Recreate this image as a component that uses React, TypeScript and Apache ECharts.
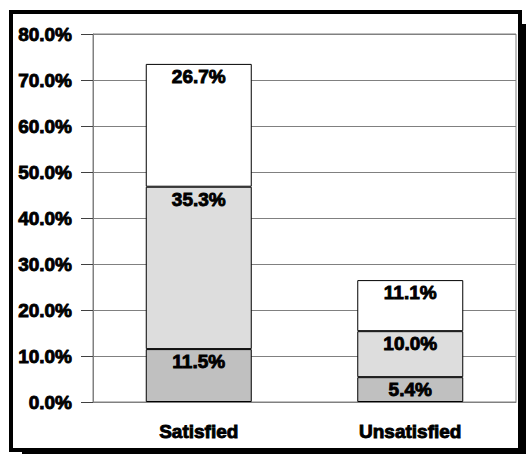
import React, { useEffect, useRef } from "react";
import * as echarts from "echarts";

const categories = ["Satisfied", "Unsatisfied"];
const bottomValues = [11.5, 5.4];
const middleValues = [35.3, 10.0];
const topValues = [26.7, 11.1];
const yTicks = { min: 0, max: 80, interval: 10 };

const FONT = '"Liberation Sans", Arial, sans-serif';
const heavy = { textBorderColor: "#000", textBorderWidth: 0.9 };

export default function App() {
  const ref = useRef<HTMLDivElement>(null);
  useEffect(() => {
    document.body.style.margin = "0";
    const chart = echarts.init(ref.current!, undefined, { renderer: "svg" });
    const label = {
      show: true,
      position: "insideTop",
      distance: 3,
      color: "#000",
      fontFamily: FONT,
      fontWeight: "bold",
      fontSize: 19,
      ...heavy,
      formatter: (p: any) => Number(p.value).toFixed(1) + "%",
    };
    const mk = (name: string, data: number[], color: string) => ({
      name,
      type: "bar",
      stack: "s",
      data,
      barWidth: 106,
      itemStyle: { color, borderColor: "#000", borderWidth: 1 },
      label,
    });
    chart.setOption({
      animation: false,
      graphic: [
        {
          type: "rect",
          shape: { x: 22, y: 24, width: 510, height: 440 },
          style: { fill: "#000" },
          z: -10,
        },
        {
          type: "rect",
          shape: { x: 11, y: 12, width: 509, height: 438 },
          style: { fill: "#fff", stroke: "#000", lineWidth: 4 },
          z: -9,
        },
      ],
      grid: {
        left: 93,
        top: 34,
        right: 10,
        bottom: 52,
        show: true,
        borderColor: "#808080",
        borderWidth: 1,
        z: 0,
      },
      xAxis: {
        type: "category",
        data: categories,
        axisLine: { lineStyle: { color: "#808080", width: 1 } },
        axisTick: { alignWithLabel: true, length: 6, lineStyle: { color: "#000" } },
        axisLabel: {
          margin: 20,
          color: "#000",
          fontFamily: FONT,
          fontWeight: "bold",
          fontSize: 19,
          ...heavy,
        },
      },
      yAxis: {
        type: "value",
        min: yTicks.min,
        max: yTicks.max,
        interval: yTicks.interval,
        axisLine: { show: true, lineStyle: { color: "#808080", width: 1 } },
        axisTick: { show: true, length: 12, lineStyle: { color: "#404040" } },
        splitLine: { lineStyle: { color: "#808080", width: 1 } },
        axisLabel: {
          margin: 21,
          color: "#000",
          fontFamily: FONT,
          fontWeight: "bold",
          fontSize: 19,
          ...heavy,
          formatter: (v: number) => v.toFixed(1) + "%",
        },
      },
      series: [
        mk("bottom", bottomValues, "#c0c0c0"),
        mk("middle", middleValues, "#dddddd"),
        mk("top", topValues, "#ffffff"),
      ],
    });
    return () => chart.dispose();
  }, []);
  return <div ref={ref} style={{ width: 526, height: 454 }} />;
}
